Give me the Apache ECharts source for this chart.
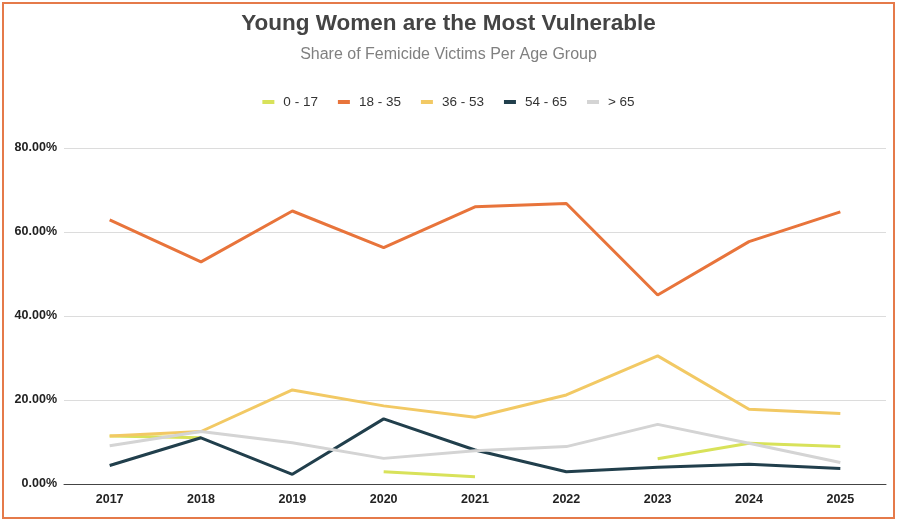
<!DOCTYPE html>
<html>
<head>
<meta charset="utf-8">
<script src="https://cdn.jsdelivr.net/npm/echarts@6/dist/echarts.min.js"></script>
<style>
  html, body { margin: 0; padding: 0; background: #fff; }
  body { padding: 2px; }
  #chart { width: 893px; height: 517px; box-sizing: border-box; border: 2px solid #e57a4a; }
</style>
</head>
<body>
<div id="chart"></div>
<script>
// 数据
const years = ['2017', '2018', '2019', '2020', '2021', '2022', '2023', '2024', '2025'];
const age0to17 = [11.4, 11.0, null, 2.9, 1.7, null, 6.0, 9.7, 8.9];
const age18to35 = [62.9, 52.9, 65.0, 56.3, 66.0, 66.8, 45.0, 57.7, 64.8];
const age36to53 = [11.4, 12.5, 22.4, 18.6, 15.9, 21.2, 30.5, 17.8, 16.8];
const age54to65 = [4.4, 11.0, 2.3, 15.5, 8.1, 2.9, 4.0, 4.7, 3.7];
const age65plus = [9.1, 12.5, 9.8, 6.1, 7.9, 8.9, 14.2, 9.7, 5.1];
const yTicks = [0, 20, 40, 60, 80];

const chart = echarts.init(document.getElementById('chart'));

const mkLine = (name, data, color) => ({
  name,
  type: 'line',
  data,
  symbol: 'none',
  connectNulls: false,
  itemStyle: { color },
  lineStyle: { color, width: 3 }
});

const option = {
  animation: false,
  title: {
    text: 'Young Women are the Most Vulnerable',
    subtext: 'Share of Femicide Victims Per Age Group',
    left: 'center',
    top: 3,
    itemGap: 12,
    textStyle: { fontFamily: 'Liberation Sans', fontSize: 22.5, fontWeight: 'bold', color: '#444' },
    subtextStyle: { fontFamily: 'Liberation Sans', fontSize: 16, color: '#808080' }
  },
  legend: {
    top: 86,
    left: 'center',
    itemWidth: 12,
    itemHeight: 4,
    itemGap: 20,
    icon: 'rect',
    textStyle: { fontFamily: 'Liberation Sans', fontSize: 13.5, color: '#333', padding: [0, 0, 0, 4] }
  },
  grid: { left: 60, right: 7, top: 144, bottom: 33 },
  xAxis: {
    type: 'category',
    data: years,
    boundaryGap: true,
    axisTick: { show: false },
    axisLine: { lineStyle: { color: '#444', width: 1 } },
    axisLabel: { fontFamily: 'Liberation Sans', fontSize: 12.5, fontWeight: 'bold', color: '#222', margin: 9 }
  },
  yAxis: {
    type: 'value',
    min: yTicks[0],
    max: yTicks[yTicks.length - 1],
    interval: 20,
    axisLine: { show: false },
    axisTick: { show: false },
    axisLabel: {
      fontFamily: 'Liberation Sans', fontSize: 12.5, fontWeight: 'bold', color: '#222', margin: 7,
      formatter: v => v.toFixed(2) + '%'
    },
    splitLine: { lineStyle: { color: '#dcdcdc', width: 1 } }
  },
  series: [
    mkLine('0 - 17', age0to17, '#d8e25a'),
    mkLine('18 - 35', age18to35, '#e8743b'),
    mkLine('36 - 53', age36to53, '#f2c964'),
    mkLine('54 - 65', age54to65, '#213f4c'),
    mkLine('> 65', age65plus, '#d4d4d4')
  ]
};

chart.setOption(option);
</script>
</body>
</html>
